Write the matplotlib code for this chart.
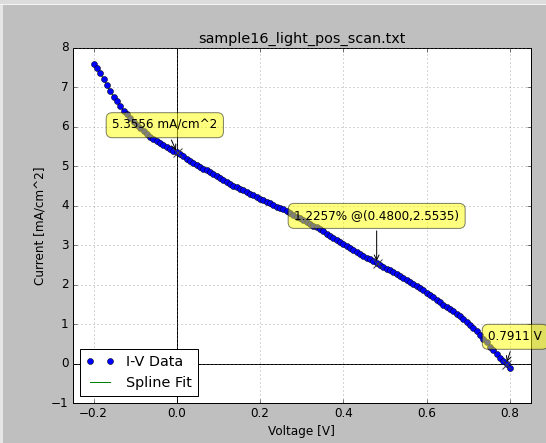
import numpy as np
import matplotlib
matplotlib.use('Agg')
import matplotlib.pyplot as plt
from matplotlib.patches import Rectangle

plt.style.use('classic')
plt.rcParams['font.family'] = ['DejaVu Sans']

# ---- data ----
sweep_start = -0.2      # V, start of the voltage sweep
sweep_step = 0.008      # V, sweep step
current = [7.60, 7.48, 7.36, 7.21, 7.05, 6.90, 6.76, 6.64, 6.52, 6.41,
           6.31, 6.21, 6.12, 6.04, 5.96, 5.89, 5.82, 5.75, 5.69, 5.63,
           5.58, 5.53, 5.48, 5.43, 5.39, 5.36, 5.30, 5.25, 5.19, 5.14,
           5.08, 5.03, 4.99, 4.94, 4.90, 4.85, 4.80, 4.75, 4.71, 4.66,
           4.61, 4.56, 4.51, 4.47, 4.43, 4.40, 4.36, 4.31, 4.26, 4.22,
           4.18, 4.14, 4.10, 4.06, 4.02, 3.98, 3.94, 3.91, 3.86, 3.82,
           3.77, 3.72, 3.68, 3.64, 3.59, 3.54, 3.49, 3.45, 3.40, 3.35,
           3.29, 3.24, 3.19, 3.14, 3.09, 3.03, 2.98, 2.93, 2.88, 2.84,
           2.79, 2.74, 2.69, 2.65, 2.60, 2.55, 2.51, 2.46, 2.41, 2.37,
           2.32, 2.27, 2.22, 2.17, 2.11, 2.06, 2.01, 1.96, 1.91, 1.86,
           1.80, 1.74, 1.68, 1.62, 1.56, 1.50, 1.45, 1.39, 1.33, 1.27,
           1.20, 1.14, 1.07, 0.99, 0.91, 0.83, 0.74, 0.64, 0.54, 0.43,
           0.34, 0.24, 0.15, 0.07, -0.01, -0.10]
voltage = np.round(sweep_start + sweep_step * np.arange(len(current)), 4)

isc = 5.3556
pmax_v = 0.4800
pmax_i = 2.5535
efficiency = 1.2257
voc = 0.7911

title = 'sample16_light_pos_scan.txt'

# ---- figure ----
fig = plt.figure(figsize=(546 / 72, 443 / 72), dpi=72)
fig.patch.set_facecolor('#bfbfbf')
# window chrome strips
fig.patches.append(Rectangle((0, 1 - 3.5 / 443), 1, 3.5 / 443, transform=fig.transFigure,
                             facecolor='#dcdcdc', edgecolor='none', zorder=0))
fig.patches.append(Rectangle((0, 1 - 5 / 443), 1, 1.5 / 443, transform=fig.transFigure,
                             facecolor='#f4f4f4', edgecolor='none', zorder=0))
fig.patches.append(Rectangle((0, 0), 2.5 / 546, 1 - 5 / 443, transform=fig.transFigure,
                             facecolor='#e6e6e6', edgecolor='none', zorder=0))

ax = fig.add_axes([0.1332, 0.0896, 0.972 - 0.1332, 0.8923 - 0.0896])

ax.plot(voltage, current, 'bo', ms=6, mec='k', mew=0.5, label='I-V Data', zorder=3)
ax.plot(voltage, current, 'g-', lw=1, label='Spline Fit', zorder=2)

ax.axhline(0, color='k', lw=1, zorder=1)
ax.axvline(0, color='k', lw=1, zorder=1)

ax.plot([0, pmax_v, voc], [isc, pmax_i, 0], 'x', color='0.25', ms=9, mew=1, zorder=4)

box = dict(boxstyle='round,pad=0.5', fc='yellow', alpha=0.5)
arrow = dict(arrowstyle='->', connectionstyle='arc3,rad=0')
ax.annotate('%.4f mA/cm^2' % isc, xy=(0, isc), xytext=(-12, 27),
            textcoords='offset points', ha='center', va='center',
            bbox=box, arrowprops=arrow, zorder=5)
ax.annotate('%.4f%% @(%.4f,%.4f)' % (efficiency, pmax_v, pmax_i), xy=(pmax_v, pmax_i),
            xytext=(0, 47), textcoords='offset points', ha='center', va='center',
            bbox=box, arrowprops=arrow, zorder=5)
ax.annotate('%.4f V' % voc, xy=(voc, 0), xytext=(9, 27),
            textcoords='offset points', ha='center', va='center',
            bbox=box, arrowprops=arrow, zorder=5)

ax.set_xlim(-0.25, 0.85)
ax.set_ylim(-1, 8)
ax.set_xticks([-0.2, 0.0, 0.2, 0.4, 0.6, 0.8])
ax.set_yticks(range(-1, 9))
ax.grid(True, color='0.45', linestyle=':', linewidth=0.6)
ax.set_title(title)
ax.set_xlabel('Voltage [V]')
ax.set_ylabel('Current [mA/cm^2]')
ax.legend(loc='lower left', numpoints=2)

fig.savefig('out.png', dpi=72, facecolor=fig.get_facecolor())
